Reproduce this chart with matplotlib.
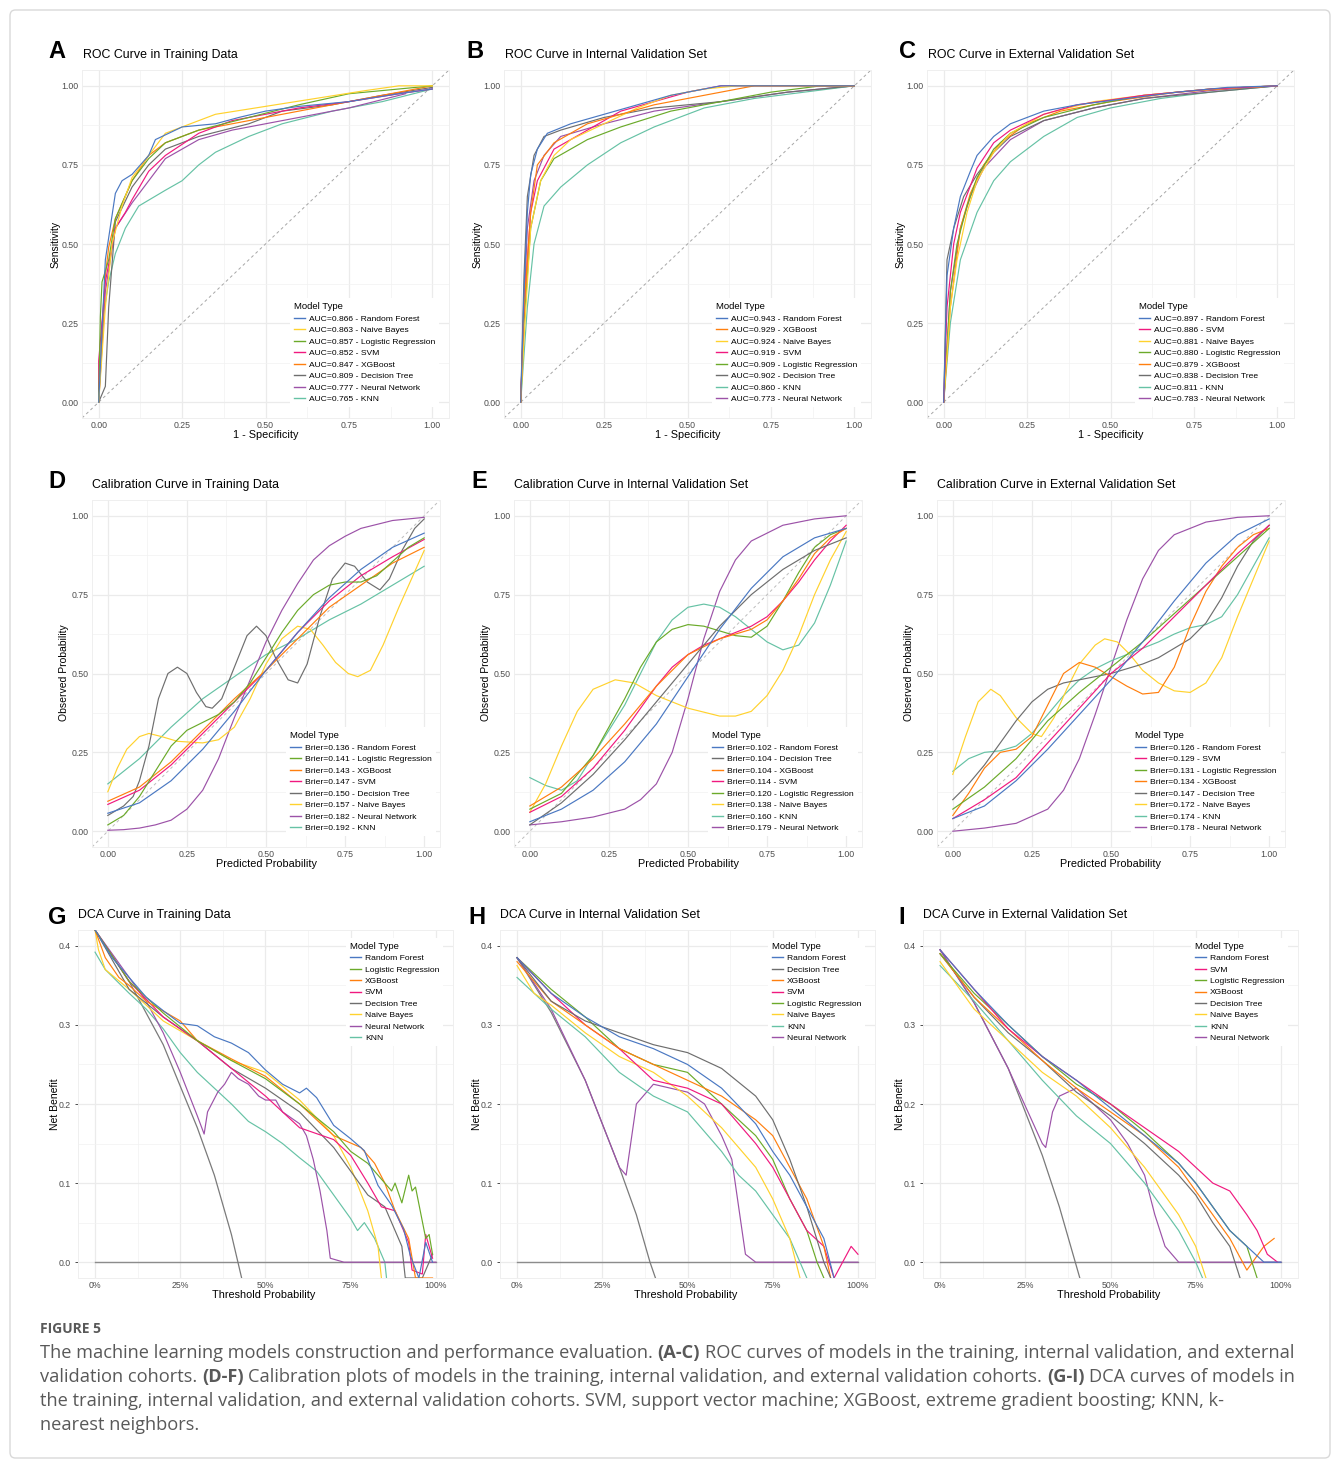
import matplotlib
matplotlib.use('Agg')
import matplotlib.pyplot as plt
from matplotlib.lines import Line2D
from matplotlib.patches import FancyBboxPatch

W, H = 1333, 1460
plt.rcParams['font.family'] = ['Liberation Sans', 'DejaVu Sans']

# Cores e nomes dos modelos
cores = {'RF': '#4A78C2', 'LR': '#6BAA2A', 'XGB': '#FF7F0E', 'SVM': '#F0197F',
         'DT': '#6E6E6E', 'NB': '#FFD22E', 'NN': '#9C52A8', 'KNN': '#66C2A5'}
nomes = {'RF': 'Random Forest', 'LR': 'Logistic Regression', 'XGB': 'XGBoost', 'SVM': 'SVM',
         'DT': 'Decision Tree', 'NB': 'Naive Bayes', 'NN': 'Neural Network', 'KNN': 'KNN'}

# ---------------- ROC (x = 1 - especificidade, y = sensibilidade) ----------------
roc_treino = {
    'KNN': ([0, 0.01, 0.03, 0.05, 0.08, 0.12, 0.2, 0.25, 0.3, 0.35, 0.45, 0.55, 0.7, 0.85, 1.0],
            [0, 0.25, 0.38, 0.47, 0.55, 0.62, 0.67, 0.70, 0.75, 0.79, 0.84, 0.88, 0.92, 0.95, 0.99]),
    'NN': ([0, 0.02, 0.05, 0.1, 0.15, 0.2, 0.3, 0.4, 0.5, 0.6, 0.75, 0.92],
           [0, 0.35, 0.55, 0.63, 0.70, 0.77, 0.83, 0.86, 0.88, 0.90, 0.93, 0.975]),
    'DT': ([0, 0.02, 0.03, 0.05, 0.1, 0.15, 0.2, 0.3, 0.45, 0.55, 0.7, 0.85, 1.0],
           [0, 0.05, 0.3, 0.57, 0.68, 0.75, 0.80, 0.84, 0.88, 0.92, 0.94, 0.97, 0.995]),
    'XGB': ([0, 0.02, 0.03, 0.05, 0.1, 0.15, 0.2, 0.3, 0.45, 0.6, 0.75, 0.9, 1.0],
            [0, 0.40, 0.49, 0.58, 0.70, 0.78, 0.82, 0.86, 0.89, 0.92, 0.95, 0.98, 1.0]),
    'SVM': ([0, 0, 0.02, 0.05, 0.08, 0.1, 0.15, 0.2, 0.3, 0.4, 0.5, 0.6, 0.75, 0.9, 1.0],
            [0, 0.13, 0.38, 0.55, 0.60, 0.64, 0.73, 0.78, 0.85, 0.89, 0.91, 0.93, 0.95, 0.975, 0.99]),
    'LR': ([0, 0.005, 0.01, 0.03, 0.05, 0.1, 0.15, 0.2, 0.3, 0.45, 0.6, 0.75, 0.9, 1.0],
           [0, 0.27, 0.38, 0.45, 0.58, 0.70, 0.77, 0.82, 0.86, 0.90, 0.94, 0.975, 0.99, 1.0]),
    'NB': ([0, 0.02, 0.04, 0.07, 0.1, 0.15, 0.2, 0.25, 0.35, 0.5, 0.65, 0.8, 0.9, 1.0],
           [0, 0.30, 0.50, 0.62, 0.71, 0.78, 0.85, 0.87, 0.91, 0.935, 0.96, 0.985, 1.0, 1.0]),
    'RF': ([0, 0.02, 0.05, 0.07, 0.1, 0.15, 0.17, 0.25, 0.35, 0.42, 0.5, 0.6, 0.75, 0.9, 1.0],
           [0, 0.45, 0.66, 0.70, 0.72, 0.78, 0.83, 0.87, 0.88, 0.90, 0.92, 0.935, 0.95, 0.975, 0.99]),
}
roc_interna = {
    'NN': ([0, 0.01, 0.02, 0.04, 0.07, 0.12, 0.25, 0.4, 0.6, 0.8, 1.0],
           [0, 0.30, 0.55, 0.70, 0.78, 0.84, 0.88, 0.92, 0.95, 0.98, 1.0]),
    'KNN': ([0, 0.02, 0.04, 0.07, 0.12, 0.2, 0.3, 0.4, 0.55, 0.7, 0.85, 1.0],
            [0, 0.30, 0.50, 0.62, 0.68, 0.75, 0.82, 0.87, 0.93, 0.96, 0.98, 1.0]),
    'DT': ([0, 0.01, 0.02, 0.04, 0.07, 0.12, 0.25, 0.4, 0.6, 0.8, 1.0],
           [0, 0.40, 0.65, 0.78, 0.84, 0.86, 0.90, 0.93, 0.95, 0.98, 1.0]),
    'LR': ([0, 0.01, 0.03, 0.06, 0.1, 0.2, 0.3, 0.45, 0.6, 0.75, 0.9, 1.0],
           [0, 0.25, 0.55, 0.70, 0.77, 0.83, 0.87, 0.92, 0.95, 0.98, 1.0, 1.0]),
    'SVM': ([0, 0.01, 0.03, 0.05, 0.1, 0.2, 0.3, 0.4, 0.5, 0.6, 1.0],
            [0, 0.30, 0.60, 0.70, 0.80, 0.86, 0.92, 0.95, 0.98, 1.0, 1.0]),
    'NB': ([0, 0.01, 0.03, 0.06, 0.1, 0.15, 0.25, 0.35, 0.45, 0.55, 0.65, 1.0],
           [0, 0.20, 0.55, 0.70, 0.78, 0.83, 0.88, 0.93, 0.97, 0.99, 1.0, 1.0]),
    'XGB': ([0, 0.01, 0.03, 0.05, 0.1, 0.2, 0.3, 0.4, 0.5, 0.6, 0.7, 1.0],
            [0, 0.30, 0.60, 0.75, 0.82, 0.88, 0.91, 0.94, 0.96, 0.98, 1.0, 1.0]),
    'RF': ([0, 0.01, 0.02, 0.03, 0.05, 0.08, 0.15, 0.25, 0.35, 0.45, 0.55, 0.6, 1.0],
           [0, 0.35, 0.60, 0.72, 0.80, 0.85, 0.88, 0.91, 0.94, 0.97, 0.99, 1.0, 1.0]),
}
roc_externa = {
    'NN': ([0, 0.02, 0.05, 0.08, 0.12, 0.2, 0.3, 0.45, 0.6, 0.8, 1.0],
           [0, 0.35, 0.55, 0.65, 0.74, 0.83, 0.89, 0.93, 0.96, 0.985, 1.0]),
    'KNN': ([0, 0.02, 0.05, 0.1, 0.15, 0.2, 0.3, 0.4, 0.5, 0.65, 0.8, 1.0],
            [0, 0.25, 0.45, 0.60, 0.70, 0.76, 0.84, 0.90, 0.93, 0.96, 0.98, 1.0]),
    'DT': ([0, 0.01, 0.03, 0.06, 0.1, 0.15, 0.2, 0.3, 0.45, 0.6, 0.8, 1.0],
           [0, 0.45, 0.55, 0.65, 0.72, 0.79, 0.84, 0.89, 0.93, 0.96, 0.98, 1.0]),
    'XGB': ([0, 0.02, 0.05, 0.08, 0.12, 0.17, 0.25, 0.35, 0.5, 0.7, 0.9, 1.0],
            [0, 0.30, 0.55, 0.66, 0.75, 0.82, 0.88, 0.92, 0.95, 0.98, 0.995, 1.0]),
    'LR': ([0, 0.02, 0.04, 0.07, 0.1, 0.15, 0.2, 0.3, 0.45, 0.6, 0.8, 1.0],
           [0, 0.35, 0.50, 0.62, 0.71, 0.80, 0.85, 0.90, 0.94, 0.97, 0.99, 1.0]),
    'NB': ([0, 0.02, 0.04, 0.07, 0.1, 0.15, 0.2, 0.3, 0.45, 0.6, 0.8, 1.0],
           [0, 0.30, 0.45, 0.60, 0.70, 0.79, 0.85, 0.91, 0.95, 0.97, 0.99, 1.0]),
    'SVM': ([0, 0.01, 0.03, 0.05, 0.1, 0.15, 0.2, 0.3, 0.4, 0.6, 0.8, 1.0],
            [0, 0.30, 0.50, 0.60, 0.74, 0.82, 0.86, 0.91, 0.94, 0.97, 0.99, 1.0]),
    'RF': ([0, 0.01, 0.03, 0.05, 0.08, 0.1, 0.15, 0.2, 0.3, 0.4, 0.55, 0.7, 0.85, 1.0],
           [0, 0.40, 0.55, 0.65, 0.73, 0.78, 0.84, 0.88, 0.92, 0.94, 0.96, 0.98, 0.995, 1.0]),
}
ordem_roc_treino = ['RF', 'NB', 'LR', 'SVM', 'XGB', 'DT', 'NN', 'KNN']
auc_treino = [0.866, 0.863, 0.857, 0.852, 0.847, 0.809, 0.777, 0.765]
ordem_roc_interna = ['RF', 'XGB', 'NB', 'SVM', 'LR', 'DT', 'KNN', 'NN']
auc_interna = [0.943, 0.929, 0.924, 0.919, 0.909, 0.902, 0.860, 0.773]
ordem_roc_externa = ['RF', 'SVM', 'NB', 'LR', 'XGB', 'DT', 'KNN', 'NN']
auc_externa = [0.897, 0.886, 0.881, 0.880, 0.879, 0.838, 0.811, 0.783]

# ---------------- Calibração (prob. prevista x prob. observada) ----------------
cal_treino = {
    'KNN': ([0, 0.1, 0.2, 0.3, 0.4, 0.5, 0.6, 0.7, 0.8, 0.9, 1.0],
            [0.15, 0.23, 0.33, 0.42, 0.49, 0.56, 0.61, 0.67, 0.72, 0.78, 0.84]),
    'NN': ([0, 0.05, 0.1, 0.15, 0.2, 0.25, 0.3, 0.35, 0.4, 0.45, 0.5, 0.55, 0.6, 0.65, 0.7, 0.75, 0.8, 0.9, 1.0],
           [0.003, 0.005, 0.01, 0.02, 0.035, 0.07, 0.13, 0.23, 0.36, 0.48, 0.60, 0.70, 0.785, 0.86, 0.905, 0.935, 0.96, 0.985, 0.995]),
    'NB': ([0, 0.03, 0.06, 0.1, 0.13, 0.17, 0.22, 0.3, 0.35, 0.4, 0.45, 0.5, 0.55, 0.6, 0.64, 0.68, 0.72, 0.76, 0.79, 0.83, 0.87, 0.92, 0.96, 1.0],
           [0.125, 0.2, 0.26, 0.30, 0.31, 0.30, 0.285, 0.28, 0.29, 0.33, 0.42, 0.53, 0.61, 0.65, 0.64, 0.59, 0.535, 0.50, 0.49, 0.51, 0.59, 0.71, 0.80, 0.89]),
    'DT': ([0, 0.05, 0.08, 0.1, 0.13, 0.16, 0.19, 0.22, 0.25, 0.28, 0.31, 0.33, 0.36, 0.4, 0.44, 0.47, 0.5, 0.53, 0.57, 0.6, 0.63, 0.67, 0.71, 0.75, 0.78, 0.82, 0.86, 0.89, 0.93, 0.97, 1.0],
           [0.05, 0.08, 0.11, 0.16, 0.27, 0.42, 0.50, 0.52, 0.50, 0.44, 0.395, 0.39, 0.42, 0.52, 0.62, 0.65, 0.62, 0.55, 0.48, 0.47, 0.53, 0.68, 0.80, 0.85, 0.84, 0.79, 0.765, 0.80, 0.89, 0.96, 0.99]),
    'SVM': ([0, 0.1, 0.2, 0.3, 0.4, 0.5, 0.6, 0.7, 0.8, 0.9, 1.0],
            [0.085, 0.13, 0.21, 0.31, 0.41, 0.51, 0.63, 0.73, 0.81, 0.87, 0.925]),
    'XGB': ([0, 0.1, 0.2, 0.3, 0.4, 0.5, 0.6, 0.7, 0.8, 0.9, 1.0],
            [0.095, 0.14, 0.22, 0.32, 0.42, 0.51, 0.61, 0.71, 0.78, 0.85, 0.90]),
    'LR': ([0, 0.05, 0.1, 0.15, 0.2, 0.25, 0.3, 0.35, 0.4, 0.45, 0.5, 0.55, 0.6, 0.65, 0.7, 0.75, 0.8, 0.85, 0.9, 0.95, 1.0],
           [0.02, 0.05, 0.11, 0.19, 0.27, 0.32, 0.345, 0.37, 0.41, 0.47, 0.55, 0.63, 0.70, 0.75, 0.78, 0.79, 0.79, 0.81, 0.855, 0.90, 0.93]),
    'RF': ([0, 0.1, 0.2, 0.3, 0.4, 0.5, 0.6, 0.7, 0.8, 0.9, 1.0],
           [0.057, 0.09, 0.16, 0.26, 0.38, 0.51, 0.63, 0.74, 0.83, 0.90, 0.945]),
}
cal_interna = {
    'NN': ([0, 0.1, 0.2, 0.3, 0.35, 0.4, 0.45, 0.5, 0.55, 0.6, 0.65, 0.7, 0.8, 0.9, 1.0],
           [0.02, 0.03, 0.045, 0.07, 0.10, 0.15, 0.25, 0.42, 0.61, 0.76, 0.86, 0.92, 0.97, 0.99, 1.0]),
    'KNN': ([0, 0.05, 0.1, 0.15, 0.2, 0.25, 0.3, 0.35, 0.4, 0.45, 0.5, 0.55, 0.6, 0.65, 0.7, 0.75, 0.8, 0.85, 0.9, 0.95, 1.0],
            [0.17, 0.145, 0.13, 0.16, 0.24, 0.32, 0.40, 0.50, 0.60, 0.67, 0.71, 0.72, 0.71, 0.68, 0.64, 0.60, 0.575, 0.59, 0.66, 0.78, 0.92]),
    'NB': ([0, 0.05, 0.1, 0.15, 0.2, 0.27, 0.33, 0.4, 0.5, 0.6, 0.65, 0.7, 0.75, 0.8, 0.85, 0.9, 0.95, 1.0],
           [0.06, 0.15, 0.27, 0.38, 0.45, 0.48, 0.47, 0.43, 0.39, 0.365, 0.365, 0.38, 0.43, 0.51, 0.62, 0.75, 0.86, 0.95]),
    'LR': ([0, 0.1, 0.2, 0.3, 0.35, 0.4, 0.45, 0.5, 0.55, 0.6, 0.65, 0.7, 0.75, 0.8, 0.85, 0.9, 0.95, 1.0],
           [0.07, 0.12, 0.24, 0.42, 0.52, 0.60, 0.64, 0.655, 0.65, 0.635, 0.62, 0.615, 0.65, 0.73, 0.82, 0.90, 0.94, 0.96]),
    'SVM': ([0, 0.1, 0.2, 0.3, 0.4, 0.45, 0.5, 0.55, 0.6, 0.65, 0.7, 0.75, 0.8, 0.85, 0.9, 0.95, 1.0],
            [0.06, 0.11, 0.20, 0.32, 0.46, 0.52, 0.56, 0.59, 0.61, 0.63, 0.65, 0.68, 0.73, 0.79, 0.86, 0.92, 0.97]),
    'XGB': ([0, 0.1, 0.2, 0.3, 0.4, 0.5, 0.6, 0.7, 0.75, 0.8, 0.85, 0.9, 0.95, 1.0],
            [0.08, 0.14, 0.23, 0.34, 0.46, 0.56, 0.61, 0.64, 0.67, 0.73, 0.80, 0.88, 0.93, 0.96]),
    'DT': ([0, 0.1, 0.2, 0.3, 0.4, 0.5, 0.6, 0.7, 0.8, 0.9, 1.0],
           [0.02, 0.09, 0.18, 0.29, 0.41, 0.53, 0.65, 0.75, 0.83, 0.89, 0.93]),
    'RF': ([0, 0.1, 0.2, 0.3, 0.4, 0.5, 0.6, 0.7, 0.8, 0.9, 1.0],
           [0.03, 0.07, 0.13, 0.22, 0.34, 0.49, 0.64, 0.77, 0.87, 0.93, 0.96]),
}
cal_externa = {
    'NN': ([0, 0.1, 0.2, 0.3, 0.35, 0.4, 0.45, 0.5, 0.55, 0.6, 0.65, 0.7, 0.8, 0.9, 1.0],
           [0.0, 0.01, 0.025, 0.07, 0.13, 0.23, 0.37, 0.52, 0.67, 0.80, 0.89, 0.94, 0.98, 0.995, 1.0]),
    'KNN': ([0, 0.05, 0.1, 0.15, 0.2, 0.25, 0.3, 0.35, 0.4, 0.45, 0.5, 0.55, 0.6, 0.65, 0.7, 0.75, 0.8, 0.85, 0.9, 0.95, 1.0],
            [0.19, 0.23, 0.25, 0.255, 0.27, 0.31, 0.37, 0.43, 0.48, 0.515, 0.54, 0.56, 0.58, 0.60, 0.625, 0.645, 0.655, 0.68, 0.75, 0.84, 0.93]),
    'NB': ([0, 0.04, 0.08, 0.12, 0.15, 0.2, 0.25, 0.28, 0.32, 0.36, 0.4, 0.45, 0.48, 0.52, 0.56, 0.6, 0.65, 0.7, 0.75, 0.8, 0.85, 0.9, 0.95, 1.0],
           [0.18, 0.30, 0.41, 0.45, 0.43, 0.36, 0.31, 0.30, 0.36, 0.45, 0.53, 0.59, 0.61, 0.60, 0.56, 0.51, 0.47, 0.445, 0.44, 0.47, 0.55, 0.68, 0.80, 0.92]),
    'DT': ([0, 0.05, 0.1, 0.15, 0.2, 0.25, 0.3, 0.35, 0.4, 0.5, 0.6, 0.65, 0.7, 0.75, 0.8, 0.85, 0.9, 0.95, 1.0],
           [0.10, 0.15, 0.21, 0.28, 0.35, 0.41, 0.45, 0.47, 0.48, 0.50, 0.53, 0.55, 0.58, 0.61, 0.66, 0.74, 0.84, 0.92, 0.97]),
    'XGB': ([0, 0.05, 0.1, 0.15, 0.2, 0.25, 0.3, 0.35, 0.4, 0.45, 0.5, 0.55, 0.6, 0.65, 0.7, 0.75, 0.8, 0.85, 0.9, 0.95, 1.0],
            [0.05, 0.12, 0.20, 0.25, 0.26, 0.30, 0.40, 0.50, 0.535, 0.52, 0.49, 0.46, 0.435, 0.44, 0.52, 0.65, 0.76, 0.84, 0.90, 0.94, 0.96]),
    'LR': ([0, 0.1, 0.2, 0.3, 0.4, 0.5, 0.6, 0.7, 0.8, 0.9, 1.0],
           [0.07, 0.14, 0.23, 0.35, 0.44, 0.52, 0.60, 0.69, 0.78, 0.87, 0.96]),
    'SVM': ([0, 0.1, 0.2, 0.3, 0.4, 0.5, 0.6, 0.7, 0.8, 0.9, 1.0],
            [0.04, 0.10, 0.17, 0.28, 0.39, 0.50, 0.58, 0.68, 0.78, 0.88, 0.97]),
    'RF': ([0, 0.1, 0.2, 0.3, 0.4, 0.5, 0.6, 0.7, 0.8, 0.9, 1.0],
           [0.04, 0.08, 0.16, 0.26, 0.37, 0.48, 0.60, 0.73, 0.85, 0.94, 0.99]),
}
ordem_cal_treino = ['RF', 'LR', 'XGB', 'SVM', 'DT', 'NB', 'NN', 'KNN']
brier_treino = [0.136, 0.141, 0.143, 0.147, 0.150, 0.157, 0.182, 0.192]
ordem_cal_interna = ['RF', 'DT', 'XGB', 'SVM', 'LR', 'NB', 'KNN', 'NN']
brier_interna = [0.102, 0.104, 0.104, 0.114, 0.120, 0.138, 0.160, 0.179]
ordem_cal_externa = ['RF', 'SVM', 'LR', 'XGB', 'DT', 'NB', 'KNN', 'NN']
brier_externa = [0.126, 0.129, 0.131, 0.134, 0.147, 0.172, 0.174, 0.178]

# ---------------- DCA (limiar x benefício líquido) ----------------
dca_treino = {
    'KNN': ([0, 0.03, 0.1, 0.15, 0.2, 0.25, 0.3, 0.35, 0.4, 0.45, 0.5, 0.55, 0.6, 0.65, 0.7, 0.75, 0.77, 0.79, 0.82, 0.85, 0.855],
            [0.392, 0.37, 0.34, 0.32, 0.295, 0.265, 0.24, 0.22, 0.20, 0.178, 0.165, 0.15, 0.132, 0.115, 0.085, 0.055, 0.04, 0.05, 0.03, 0.0, -0.02]),
    'NN': ([0, 0.05, 0.1, 0.15, 0.2, 0.25, 0.3, 0.32, 0.33, 0.36, 0.38, 0.4, 0.42, 0.45, 0.48, 0.5, 0.53, 0.55, 0.6, 0.62, 0.64, 0.66, 0.68, 0.69, 0.73, 1.0],
           [0.42, 0.39, 0.36, 0.33, 0.29, 0.24, 0.185, 0.162, 0.19, 0.215, 0.225, 0.24, 0.232, 0.225, 0.21, 0.205, 0.205, 0.19, 0.175, 0.16, 0.13, 0.09, 0.04, 0.005, 0.0, 0.0]),
    'NB': ([0, 0.01, 0.03, 0.1, 0.2, 0.3, 0.4, 0.5, 0.6, 0.7, 0.75, 0.8, 0.83, 0.84],
           [0.42, 0.395, 0.37, 0.345, 0.305, 0.28, 0.255, 0.24, 0.205, 0.16, 0.12, 0.065, 0.02, -0.02]),
    'DT': ([0, 0.1, 0.2, 0.3, 0.4, 0.5, 0.6, 0.7, 0.75, 0.8, 0.85, 0.9, 0.91, 0.96, 0.99],
           [0.42, 0.345, 0.31, 0.28, 0.245, 0.22, 0.19, 0.145, 0.115, 0.085, 0.07, 0.02, -0.02, -0.02, 0.01]),
    'SVM': ([0, 0.1, 0.2, 0.3, 0.4, 0.5, 0.55, 0.6, 0.7, 0.75, 0.8, 0.84, 0.88, 0.92, 0.93, 0.96, 0.97, 0.99],
            [0.42, 0.355, 0.31, 0.28, 0.245, 0.21, 0.19, 0.17, 0.155, 0.135, 0.10, 0.07, 0.065, 0.025, -0.01, -0.015, 0.035, 0.005]),
    'XGB': ([0, 0.03, 0.07, 0.1, 0.15, 0.25, 0.3, 0.4, 0.5, 0.6, 0.7, 0.78, 0.82, 0.85, 0.88, 0.92, 0.94, 0.99],
            [0.42, 0.385, 0.36, 0.35, 0.33, 0.305, 0.28, 0.257, 0.235, 0.20, 0.16, 0.145, 0.125, 0.10, 0.065, 0.03, -0.02, -0.02]),
    'LR': ([0, 0.1, 0.2, 0.3, 0.4, 0.5, 0.6, 0.7, 0.75, 0.8, 0.85, 0.87, 0.88, 0.9, 0.92, 0.93, 0.94, 0.97, 0.98, 0.99],
           [0.42, 0.355, 0.315, 0.28, 0.255, 0.232, 0.20, 0.165, 0.14, 0.125, 0.10, 0.09, 0.10, 0.075, 0.11, 0.09, 0.095, 0.03, 0.035, 0.01]),
    'RF': ([0, 0.05, 0.1, 0.15, 0.2, 0.25, 0.3, 0.35, 0.4, 0.45, 0.5, 0.55, 0.6, 0.62, 0.65, 0.7, 0.75, 0.79, 0.83, 0.87, 0.905, 0.925, 0.95, 0.97, 0.99],
           [0.42, 0.385, 0.36, 0.335, 0.318, 0.302, 0.299, 0.285, 0.277, 0.265, 0.243, 0.225, 0.214, 0.22, 0.208, 0.173, 0.156, 0.141, 0.097, 0.072, 0.042, 0.008, -0.02, 0.025, 0.0]),
}
dca_interna = {
    'NN': ([0, 0.1, 0.2, 0.3, 0.32, 0.35, 0.4, 0.45, 0.5, 0.55, 0.6, 0.63, 0.65, 0.67, 0.7, 1.0],
           [0.385, 0.32, 0.23, 0.12, 0.11, 0.20, 0.225, 0.22, 0.215, 0.20, 0.16, 0.13, 0.07, 0.01, 0.0, 0.0]),
    'KNN': ([0, 0.1, 0.2, 0.3, 0.4, 0.5, 0.6, 0.65, 0.7, 0.75, 0.8, 0.85],
            [0.36, 0.32, 0.285, 0.24, 0.21, 0.19, 0.14, 0.11, 0.09, 0.06, 0.03, -0.02]),
    'NB': ([0, 0.05, 0.1, 0.2, 0.3, 0.4, 0.5, 0.6, 0.7, 0.75, 0.8, 0.83],
           [0.375, 0.34, 0.325, 0.29, 0.26, 0.24, 0.21, 0.17, 0.12, 0.08, 0.03, -0.02]),
    'LR': ([0, 0.1, 0.2, 0.3, 0.4, 0.5, 0.6, 0.7, 0.75, 0.8, 0.85, 0.88, 0.9],
           [0.385, 0.345, 0.31, 0.27, 0.25, 0.24, 0.20, 0.16, 0.13, 0.08, 0.04, 0.0, -0.02]),
    'SVM': ([0, 0.1, 0.2, 0.3, 0.4, 0.5, 0.6, 0.7, 0.75, 0.8, 0.85, 0.9, 0.93, 0.98, 1.0],
            [0.385, 0.34, 0.30, 0.27, 0.23, 0.22, 0.20, 0.15, 0.12, 0.08, 0.04, 0.02, -0.02, 0.02, 0.01]),
    'XGB': ([0, 0.1, 0.2, 0.3, 0.4, 0.5, 0.6, 0.7, 0.75, 0.8, 0.85, 0.9, 0.92],
            [0.38, 0.33, 0.30, 0.27, 0.25, 0.23, 0.21, 0.18, 0.16, 0.12, 0.08, 0.02, -0.02]),
    'DT': ([0, 0.1, 0.2, 0.3, 0.4, 0.5, 0.6, 0.7, 0.75, 0.8, 0.85, 0.9, 0.92],
           [0.385, 0.33, 0.305, 0.29, 0.275, 0.265, 0.245, 0.21, 0.18, 0.13, 0.07, 0.0, -0.02]),
    'RF': ([0, 0.1, 0.2, 0.3, 0.4, 0.5, 0.6, 0.7, 0.75, 0.8, 0.85, 0.9, 0.93],
           [0.385, 0.34, 0.31, 0.285, 0.27, 0.25, 0.22, 0.175, 0.14, 0.11, 0.07, 0.03, -0.02]),
}
dca_externa = {
    'NN': ([0, 0.1, 0.2, 0.3, 0.31, 0.33, 0.35, 0.4, 0.45, 0.5, 0.55, 0.6, 0.63, 0.66, 0.7, 1.0],
           [0.395, 0.328, 0.245, 0.15, 0.145, 0.19, 0.21, 0.22, 0.20, 0.18, 0.15, 0.11, 0.06, 0.02, 0.0, 0.0]),
    'KNN': ([0, 0.1, 0.2, 0.3, 0.4, 0.5, 0.6, 0.65, 0.7, 0.75, 0.77],
            [0.375, 0.33, 0.28, 0.23, 0.185, 0.15, 0.10, 0.07, 0.04, 0.0, -0.02]),
    'NB': ([0, 0.1, 0.2, 0.3, 0.4, 0.5, 0.6, 0.65, 0.7, 0.75, 0.78],
           [0.38, 0.32, 0.28, 0.24, 0.21, 0.17, 0.12, 0.09, 0.06, 0.02, -0.02]),
    'DT': ([0, 0.1, 0.2, 0.3, 0.4, 0.5, 0.6, 0.7, 0.75, 0.8, 0.85, 0.88],
           [0.39, 0.335, 0.29, 0.255, 0.215, 0.185, 0.15, 0.11, 0.085, 0.05, 0.02, -0.02]),
    'XGB': ([0, 0.1, 0.2, 0.3, 0.4, 0.5, 0.6, 0.7, 0.75, 0.8, 0.85, 0.9, 0.95, 0.98],
            [0.39, 0.335, 0.295, 0.255, 0.22, 0.19, 0.16, 0.12, 0.09, 0.06, 0.03, -0.01, 0.02, 0.03]),
    'LR': ([0, 0.1, 0.2, 0.3, 0.4, 0.5, 0.6, 0.7, 0.75, 0.8, 0.85, 0.9, 0.93],
           [0.39, 0.34, 0.30, 0.26, 0.225, 0.20, 0.165, 0.125, 0.10, 0.07, 0.04, 0.02, -0.02]),
    'SVM': ([0, 0.1, 0.2, 0.3, 0.4, 0.5, 0.6, 0.7, 0.8, 0.85, 0.9, 0.93, 0.96, 0.99],
            [0.395, 0.345, 0.295, 0.26, 0.23, 0.20, 0.17, 0.14, 0.10, 0.09, 0.06, 0.04, 0.01, 0.0]),
    'RF': ([0, 0.1, 0.2, 0.3, 0.4, 0.5, 0.6, 0.7, 0.75, 0.8, 0.85, 0.9, 0.95, 1.0],
           [0.395, 0.345, 0.30, 0.26, 0.23, 0.195, 0.16, 0.125, 0.10, 0.07, 0.04, 0.02, 0.0, 0.0]),
}
# curva "tratar todos" de cada coorte
todos_x_treino = [0, 0.1, 0.2, 0.3, 0.35, 0.4, 0.43]
todos_y_treino = [0.42, 0.355, 0.275, 0.17, 0.11, 0.035, -0.02]
todos_x_interna = [0, 0.1, 0.2, 0.3, 0.35, 0.39, 0.41]
todos_y_interna = [0.385, 0.316, 0.23, 0.12, 0.06, 0.0, -0.025]
todos_x_externa = [0, 0.1, 0.2, 0.3, 0.35, 0.4, 0.41]
todos_y_externa = [0.395, 0.328, 0.245, 0.135, 0.07, -0.005, -0.02]
ordem_dca_treino = ['RF', 'LR', 'XGB', 'SVM', 'DT', 'NB', 'NN', 'KNN']
ordem_dca_interna = ['RF', 'DT', 'XGB', 'SVM', 'LR', 'NB', 'KNN', 'NN']
ordem_dca_externa = ['RF', 'SVM', 'LR', 'XGB', 'DT', 'NB', 'KNN', 'NN']

ticks_prob = [0, 0.25, 0.5, 0.75, 1.0]
rot_prob = ['0.00', '0.25', '0.50', '0.75', '1.00']
ticks_nb = [0.0, 0.1, 0.2, 0.3, 0.4]
rot_nb = ['0.0', '0.1', '0.2', '0.3', '0.4']
rot_pct = ['0%', '25%', '50%', '75%', '100%']

fig = plt.figure(figsize=(W / 100, H / 100), dpi=100)
fig.patch.set_facecolor('white')

# moldura externa
fig.patches.append(FancyBboxPatch((10 / W, 1 - 1458 / H), 1320 / W, 1448 / H,
                                  boxstyle='round,pad=0,rounding_size=0.004',
                                  transform=fig.transFigure, fill=False,
                                  edgecolor='#D9D9D9', linewidth=1))


def eixo(l, t, r, b):
    return fig.add_axes([l / W, 1 - b / H, (r - l) / W, (b - t) / H])


def txt(x, y, s, **kw):
    return fig.text(x / W, 1 - y / H, s, **kw)


def base(ax, ylim, yticks, yrot, xrot, tick_y=False):
    ax.set_xlim(-0.05, 1.05)
    ax.set_ylim(*ylim)
    ax.set_xticks(ticks_prob)
    ax.set_xticklabels(xrot)
    ax.set_yticks(yticks)
    ax.set_yticklabels(yrot)
    ax.set_xticks([0.125, 0.375, 0.625, 0.875], minor=True)
    passo = yticks[1] - yticks[0]
    ax.set_yticks([v + passo / 2 for v in yticks[:-1]], minor=True)
    ax.grid(which='major', color='#EBEBEB', lw=0.9)
    ax.grid(which='minor', color='#F2F2F2', lw=0.5)
    ax.set_axisbelow(True)
    for s in ax.spines.values():
        s.set_color('#EFEFEF')
        s.set_linewidth(0.7)
    ax.tick_params(which='both', length=0, labelsize=6.3, labelcolor='#4D4D4D', pad=2.5)
    if tick_y:
        ax.tick_params(axis='y', which='major', length=2.5, color='#333333', width=0.6)


def legenda(ax, ordem, rotulos, loc, anchor):
    hs = [Line2D([], [], color=cores[k], lw=1.0) for k in ordem]
    lg = ax.legend(hs, rotulos, loc=loc, bbox_to_anchor=anchor, fontsize=6.1,
                   title='Model Type', title_fontsize=6.8, alignment='left',
                   frameon=True, facecolor='white', edgecolor='white', framealpha=1,
                   handlelength=1.3, handletextpad=0.5, labelspacing=0.42,
                   borderpad=0.45, fancybox=False)
    lg.get_frame().set_linewidth(0)
    lg.set_zorder(5)


def desenha(ax, curvas):
    for k, (xs, ys) in curvas.items():
        ax.plot(xs, ys, color=cores[k], lw=0.85, solid_joinstyle='round', zorder=3)


letras = [['A', 'B', 'C'], ['D', 'E', 'F'], ['G', 'H', 'I']]
letra_x = [[57, 475, 907], [57, 479, 909], [57, 477, 902]]
desloc = [0, 422, 845]
tam_titulo = 8.9

# ---- Linha 1: ROC ----
titulos_roc = ['ROC Curve in Training Data', 'ROC Curve in Internal Validation Set',
               'ROC Curve in External Validation Set']
dados_roc = [(roc_treino, ordem_roc_treino, auc_treino),
             (roc_interna, ordem_roc_interna, auc_interna),
             (roc_externa, ordem_roc_externa, auc_externa)]
for i, (curvas, ordem, auc) in enumerate(dados_roc):
    dx = desloc[i]
    ax = eixo(82 + dx, 70, 449 + dx, 418)
    base(ax, (-0.05, 1.05), ticks_prob, rot_prob, rot_prob)
    ax.axline((0, 0), (1, 1), color='#A6A6A6', lw=0.7, ls=(0, (3, 3)), zorder=2)
    desenha(ax, curvas)
    legenda(ax, ordem, [f'AUC={a:.3f} - {nomes[k]}' for k, a in zip(ordem, auc)],
            'lower right', (0.985, 0.02))
    txt(letra_x[0][i], 52, letras[0][i], fontsize=17, fontweight='bold', ha='center', va='center')
    txt(83 + dx, 55, titulos_roc[i], fontsize=tam_titulo, ha='left', va='center')
    txt(266 + dx, 435, '1 - Specificity', fontsize=7.8, ha='center', va='center')
    txt(56 + dx, 244, 'Sensitivity', fontsize=7.5, ha='center', va='center', rotation=90)

# ---- Linha 2: calibração ----
titulos_cal = ['Calibration Curve in Training Data', 'Calibration Curve in Internal Validation Set',
               'Calibration Curve in External Validation Set']
dados_cal = [(cal_treino, ordem_cal_treino, brier_treino),
             (cal_interna, ordem_cal_interna, brier_interna),
             (cal_externa, ordem_cal_externa, brier_externa)]
for i, (curvas, ordem, brier) in enumerate(dados_cal):
    dx = desloc[i]
    ax = eixo(92 + dx, 500, 440 + dx, 847)
    base(ax, (-0.05, 1.05), ticks_prob, rot_prob, rot_prob)
    ax.axline((0, 0), (1, 1), color='#BDBDBD', lw=0.7, ls=(0, (3, 3)), zorder=2)
    desenha(ax, curvas)
    legenda(ax, ordem, [f'Brier={b:.3f} - {nomes[k]}' for k, b in zip(ordem, brier)],
            'lower right', (1.0, 0.02))
    txt(letra_x[1][i], 482, letras[1][i], fontsize=17, fontweight='bold', ha='center', va='center')
    txt(92 + dx, 485, titulos_cal[i], fontsize=tam_titulo, ha='left', va='center')
    txt(266 + dx, 864, 'Predicted Probability', fontsize=7.8, ha='center', va='center')
    txt(64 + dx, 673, 'Observed Probability', fontsize=7.5, ha='center', va='center', rotation=90)

# ---- Linha 3: DCA ----
titulos_dca = ['DCA Curve in Training Data', 'DCA Curve in Internal Validation Set',
               'DCA Curve in External Validation Set']
dados_dca = [(dca_treino, ordem_dca_treino, todos_x_treino, todos_y_treino),
             (dca_interna, ordem_dca_interna, todos_x_interna, todos_y_interna),
             (dca_externa, ordem_dca_externa, todos_x_externa, todos_y_externa)]
for i, (curvas, ordem, tx, ty) in enumerate(dados_dca):
    dx = desloc[i]
    ax = eixo(78 + dx, 930, 453 + dx, 1278)
    base(ax, (-0.02, 0.42), ticks_nb, rot_nb, rot_pct, tick_y=True)
    ax.plot([0, 1], [0, 0], color='#8C8C8C', lw=1.0, zorder=2)
    ax.plot(tx, ty, color='#7A7A7A', lw=0.9, zorder=2)
    desenha(ax, curvas)
    legenda(ax, ordem, [nomes[k] for k in ordem], 'upper right', (0.985, 0.99))
    txt(letra_x[2][i], 918, letras[2][i], fontsize=17, fontweight='bold', ha='center', va='center')
    txt(78 + dx, 915, titulos_dca[i], fontsize=tam_titulo, ha='left', va='center')
    txt(264 + dx, 1295, 'Threshold Probability', fontsize=7.8, ha='center', va='center')
    txt(55 + dx, 1104, 'Net Benefit', fontsize=7.5, ha='center', va='center', rotation=90)

# ---- Legenda da figura ----
cor_leg = '#595959'
txt(40, 1329, 'FIGURE 5', fontsize=10, fontweight='bold', color=cor_leg, ha='left', va='center',
    family=['Open Sans', 'DejaVu Sans'])

linhas = [
    [('The machine learning models construction and performance evaluation.', False), ('(A-C)', True),
     ('ROC curves of models in the training, internal validation, and external', False)],
    [('validation cohorts.', False), ('(D-F)', True),
     ('Calibration plots of models in the training, internal validation, and external validation cohorts.', False),
     ('(G-I)', True), ('DCA curves of models in', False)],
    [('the training, internal validation, and external validation cohorts. SVM, support vector machine; XGBoost, extreme gradient boosting; KNN, k-', False)],
    [('nearest neighbors.', False)],
]
fig.canvas.draw()
rend = fig.canvas.get_renderer()
tam = 13.15


def largura(s, bold):
    t = fig.text(0, 0, s, fontsize=tam, fontweight='bold' if bold else 'normal',
                 family=['Open Sans', 'DejaVu Sans'])
    w = t.get_window_extent(renderer=rend).width
    t.remove()
    return w


esp = largura('a a', False) - largura('aa', False)
for j, partes in enumerate(linhas):
    x = 40
    y = 1353 + 24 * j
    for s, bold in partes:
        t = txt(x, y, s, fontsize=tam, fontweight='bold' if bold else 'normal', color=cor_leg,
                ha='left', va='center', family=['Open Sans', 'DejaVu Sans'])
        x += t.get_window_extent(renderer=rend).width + esp

fig.savefig('out.png', dpi=100)
